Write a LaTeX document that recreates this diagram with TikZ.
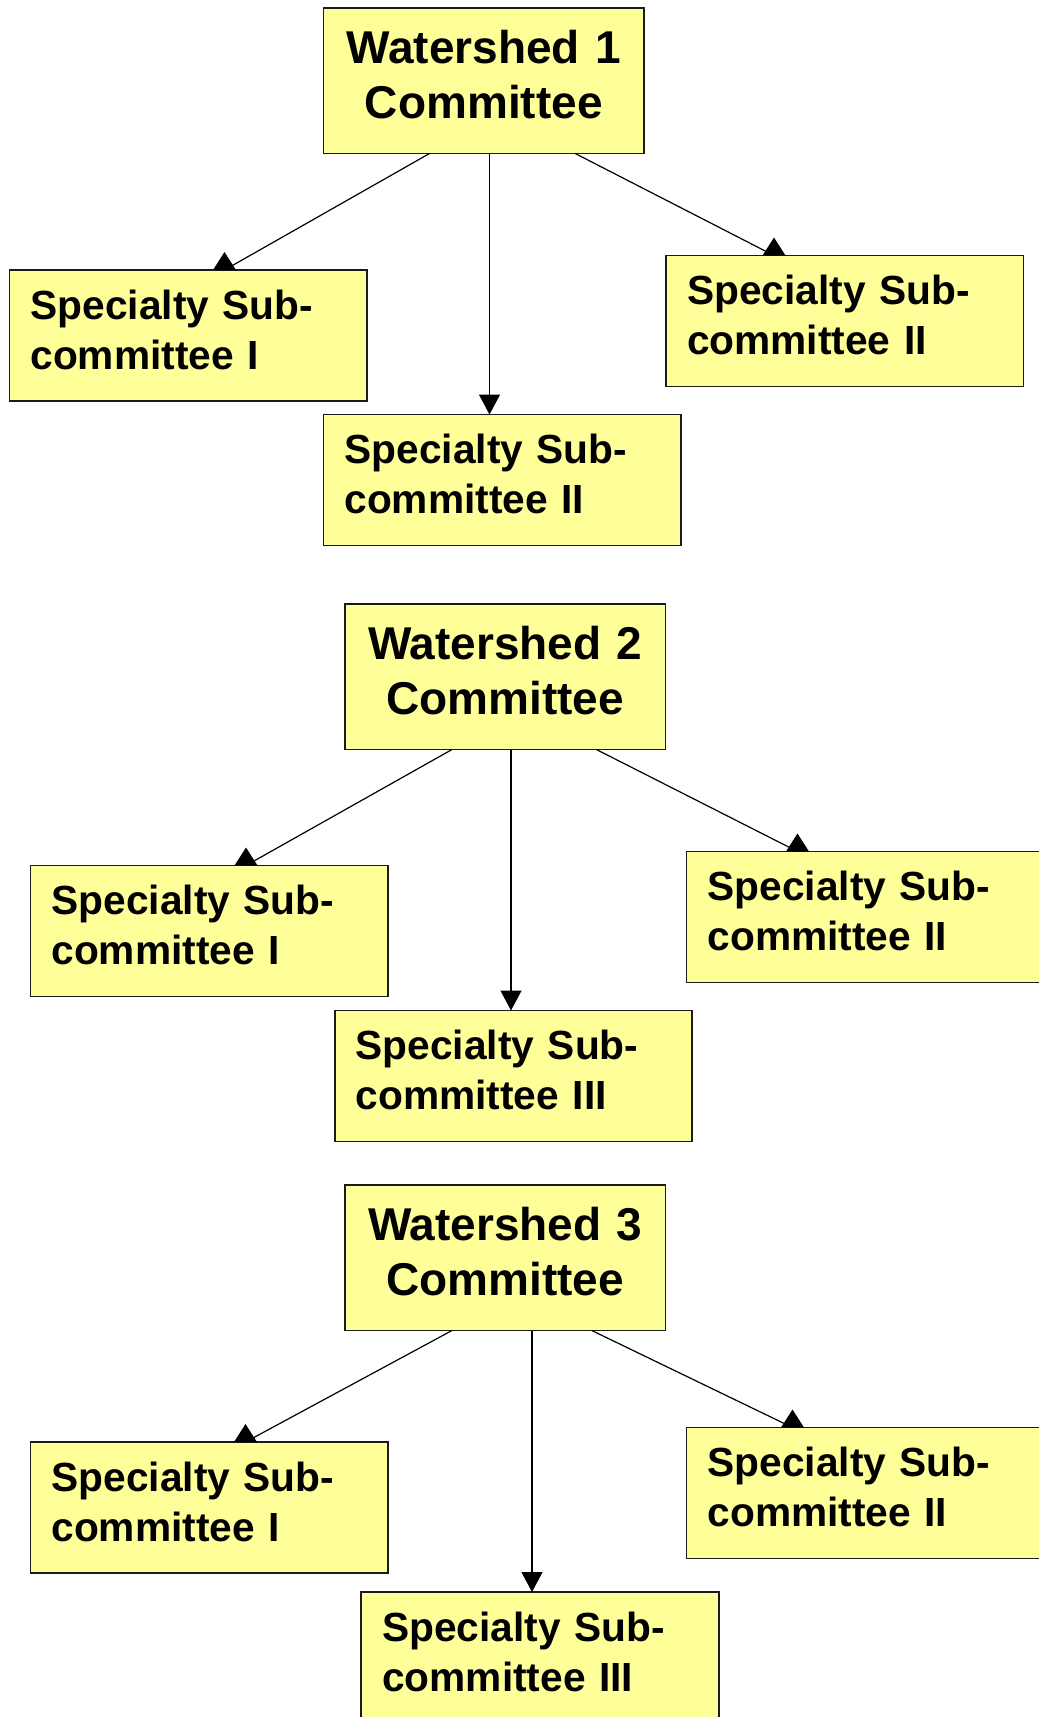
\documentclass[tikz,border=0pt]{standalone}
\usepackage{fontspec}
\setmainfont{Liberation Sans}
\usetikzlibrary{arrows.meta,calc}
\definecolor{boxfill}{HTML}{FFFF99}
\definecolor{boxline}{HTML}{1A1A1A}
\tikzset{
  commbox/.style={draw=boxline, fill=boxfill, line width=1.8pt, anchor=north west,
    outer sep=0pt, inner xsep=0pt, inner ysep=0pt,
    minimum width=320.5pt, minimum height=145.5pt, text width=320.5pt, align=center,
    font=\fontsize{46pt}{55.7pt}\selectfont\bfseries},
  subbox/.style={draw=boxline, fill=boxfill, line width=1.8pt, anchor=north west,
    outer sep=0pt, inner xsep=21pt, inner ysep=0pt,
    minimum width=357.5pt, minimum height=131pt, text width=315.5pt, align=left,
    font=\fontsize{40.7pt}{50pt}\selectfont\bfseries},
  link/.style={line width=1.2pt, draw=black},
  downarr/.style={link, -{Triangle[length=20pt,width=21pt]}},
  headtri/.style={fill=black}
}
% extra depth below the last line lifts the text block slightly
\newcommand{\lowpad}[1]{\rule[-#1]{0pt}{#1}}
% slanted connector: the line runs to the child's top edge, where an
% upright triangle stands over its end
\newcommand{\slantlink}[4]{% parent point, child node, x offset on child, name
  \coordinate (#4base) at ($(#2.north west)+(#3,0)$);
  \coordinate (#4apex) at ($(#4base)+(0,-18)$);
  \draw[link] #1 -- (#4base);
  \fill[headtri] ($(#4base)+(-11.5,0)$) -- (#4apex) -- ($(#4base)+(11.5,0)$) -- cycle;
}
\begin{document}
\begin{tikzpicture}[x=1pt,y=-1pt]
\useasboundingbox (0,0) rectangle (1039,1717);

% ---------- Watershed 1 ----------
\node[commbox] (w1) at (323.5,8) {Watershed 1\\Committee\lowpad{13pt}};
\node[subbox] (s1a) at (9.5,270) {Specialty Sub-\\committee I\lowpad{12pt}};
\node[subbox] (s1b) at (666,255.5) {Specialty Sub-\\committee II\lowpad{12pt}};
\node[subbox] (s1c) at (323.5,414.5) {Specialty Sub-\\committee II\lowpad{12pt}};
\slantlink{($(w1.south west)+(106,0)$)}{s1a}{215}{l1a}
\draw[downarr] ($(w1.south west)+(166,0)$) -- ($(s1c.north west)+(166,0)$);
\slantlink{($(w1.south west)+(251.7,0)$)}{s1b}{108}{l1b}

% ---------- Watershed 2 ----------
\node[commbox] (w2) at (345,604) {Watershed 2\\Committee\lowpad{13pt}};
\node[subbox] (s2a) at (30.5,865.5) {Specialty Sub-\\committee I\lowpad{12pt}};
\node[subbox] (s2b) at (686.5,851.5) {Specialty Sub-\\committee II\lowpad{12pt}};
\node[subbox] (s2c) at (334.6,1010.5) {Specialty Sub-\\committee III\lowpad{12pt}};
\slantlink{($(w2.south west)+(107,0)$)}{s2a}{215.5}{l2a}
\draw[downarr] ($(w2.south west)+(166,0)$) -- ($(s2c.north west)+(176.4,0)$);
\slantlink{($(w2.south west)+(251.4,0)$)}{s2b}{111}{l2b}

% ---------- Watershed 3 ----------
\node[commbox] (w3) at (345,1185) {Watershed 3\\Committee\lowpad{13pt}};
\node[subbox] (s3a) at (30.5,1442) {Specialty Sub-\\committee I\lowpad{12pt}};
\node[subbox] (s3b) at (686.5,1427.5) {Specialty Sub-\\committee II\lowpad{12pt}};
\node[subbox] (s3c) at (361.2,1592) {Specialty Sub-\\committee III\lowpad{12pt}};
\slantlink{($(w3.south west)+(107,0)$)}{s3a}{215}{l3a}
\draw[downarr] ($(w3.south west)+(187,0)$) -- ($(s3c.north west)+(170.8,0)$);
\slantlink{($(w3.south west)+(246.8,0)$)}{s3b}{106}{l3b}
\end{tikzpicture}
\end{document}
